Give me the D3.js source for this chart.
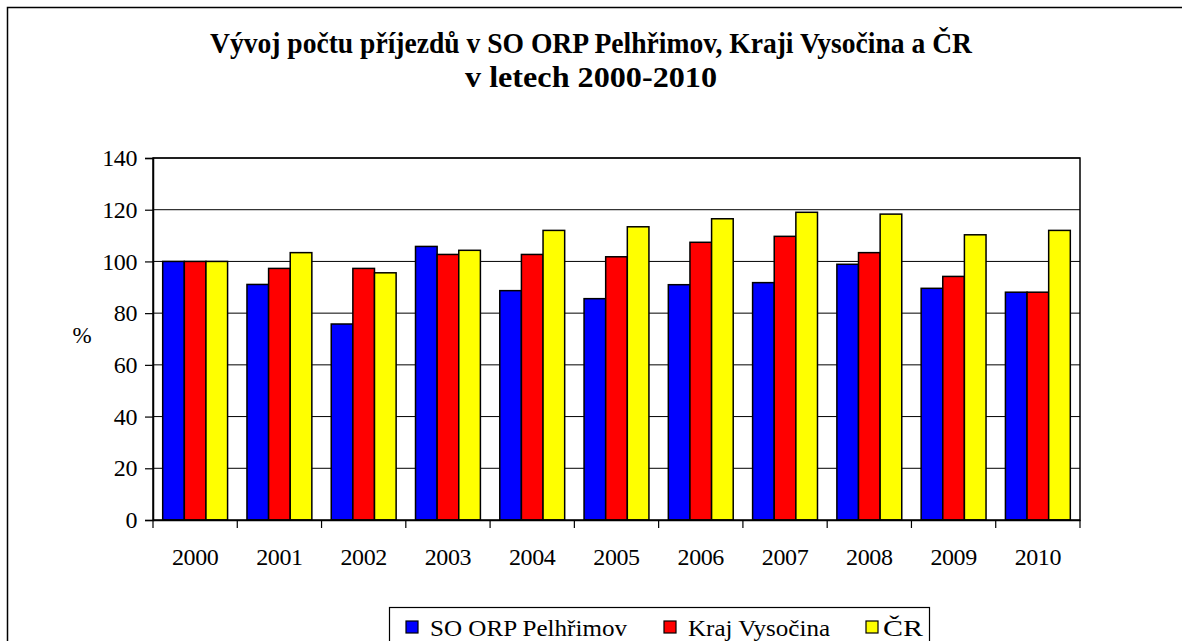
<!DOCTYPE html>
<html><head><meta charset="utf-8">
<script src="https://cdn.jsdelivr.net/npm/d3@7"></script>
<style>
html,body{margin:0;padding:0;background:#fff;overflow:hidden}
svg text{font-family:"Liberation Serif","Times New Roman",Times,serif;}
</style>
</head><body>
<svg id="c" width="1182" height="641"></svg>
<script>
const years = ["2000","2001","2002","2003","2004","2005","2006","2007","2008","2009","2010"];
const seriesNames = ["SO ORP Pelhřimov", "Kraj Vysočina", "ČR"];
const pelhrimov = [100, 91.1, 75.8, 105.8, 88.7, 85.6, 91.0, 91.8, 98.9, 89.6, 88.1];
const vysocina  = [100, 97.3, 97.3, 102.7, 102.7, 101.8, 107.4, 109.7, 103.4, 94.2, 88.1];
const cr        = [100, 103.4, 95.6, 104.3, 112.0, 113.4, 116.5, 119.0, 118.3, 110.3, 112.0];
const colors = ["#0000FF", "#FF0000", "#FFFF00"];
const yTicks = [0, 20, 40, 60, 80, 100, 120, 140];
const titleLines = ["Vývoj počtu příjezdů v SO ORP Pelhřimov, Kraji Vysočina a ČR", "v letech 2000-2010"];

const svg = d3.select("#c");

// outer border
svg.append("rect").attr("x",7.5).attr("y",7.5).attr("width",1200).attr("height",700)
  .attr("fill","none").attr("stroke","#000").attr("stroke-width",1.5);

// title
svg.append("text").attr("x",591).attr("y",53).attr("text-anchor","middle")
  .attr("font-weight","bold").attr("font-size",30)
  .attr("textLength",762).attr("lengthAdjust","spacingAndGlyphs").text(titleLines[0]);
svg.append("text").attr("x",591).attr("y",87).attr("text-anchor","middle")
  .attr("font-weight","bold").attr("font-size",30)
  .attr("textLength",252).attr("lengthAdjust","spacingAndGlyphs").text(titleLines[1]);

const L=153, R=1080, T=158, B=520;
const y = d3.scaleLinear().domain([0,140]).range([B,T]);
const x0 = d3.scaleBand().domain(years).range([L,R]).paddingInner(0.23).paddingOuter(0.115);
const x1 = d3.scaleBand().domain([0,1,2]).range([0,x0.bandwidth()]);
const xb = d3.scaleBand().domain(years).range([L,R]);

// gridlines
svg.append("g").selectAll("line").data(yTicks.filter(d=>d>0)).join("line")
  .attr("x1",L).attr("x2",R).attr("y1",d=>y(d)).attr("y2",d=>y(d))
  .attr("stroke","#000").attr("stroke-width",1);

// bars
const data = [pelhrimov, vysocina, cr];
const g = svg.append("g");
years.forEach((yr,i)=>{
  data.forEach((s,k)=>{
    g.append("rect").attr("x",x0(yr)+x1(k)).attr("y",y(s[i]))
      .attr("width",x1.bandwidth()).attr("height",B-y(s[i]))
      .attr("fill",colors[k]).attr("stroke","#000").attr("stroke-width",1.5);
  });
});

// plot border
svg.append("rect").attr("x",L).attr("y",T).attr("width",R-L).attr("height",B-T)
  .attr("fill","none").attr("stroke","#000").attr("stroke-width",1.5);

// y axis
const yAxis = d3.axisLeft(y).tickValues(yTicks).tickSize(8).tickPadding(8).tickFormat(d3.format("d"));
const ya = svg.append("g").attr("transform",`translate(${L},0)`).call(yAxis);
ya.attr("font-family",null);
ya.select(".domain").attr("stroke","#000").attr("stroke-width",1.5);
ya.selectAll(".tick line").attr("stroke","#000").attr("stroke-width",1.2);
ya.selectAll("text").attr("font-size",24).attr("fill","#000").attr("letter-spacing",-0.4);

// x axis
const xAxis = d3.axisBottom(xb).tickSize(0).tickPadding(24);
const xa = svg.append("g").attr("transform",`translate(0,${B})`).call(xAxis);
xa.attr("font-family",null);
xa.select(".domain").attr("stroke","#000").attr("stroke-width",1.5);
xa.selectAll("text").attr("font-size",24).attr("fill","#000").attr("letter-spacing",-0.4)
  .attr("y",45).attr("dy",0);
// boundary ticks
const bounds = years.map(d=>xb(d)).concat([R]);
svg.append("g").selectAll("line").data(bounds).join("line")
  .attr("x1",d=>d).attr("x2",d=>d).attr("y1",B).attr("y2",B+8)
  .attr("stroke","#000").attr("stroke-width",1.2);

// y label
svg.append("text").attr("x",82).attr("y",343).attr("text-anchor","middle")
  .attr("font-size",23).text("%");

// legend
svg.append("rect").attr("x",389.5).attr("y",607.5).attr("width",540).attr("height",60)
  .attr("fill","#fff").attr("stroke","#000").attr("stroke-width",1.2);
const legX = [406, 664, 866];
const legTextX = [430, 688, 883];
const legW = [197, 142, 40];
seriesNames.forEach((n,k)=>{
  svg.append("rect").attr("x",legX[k]).attr("y",621).attr("width",12).attr("height",12)
    .attr("fill",colors[k]).attr("stroke","#000").attr("stroke-width",1.2);
  svg.append("text").attr("x",legTextX[k]).attr("y",636)
    .attr("font-size",24).attr("textLength",legW[k]).attr("lengthAdjust","spacingAndGlyphs").text(n);
});
</script>
</body></html>
